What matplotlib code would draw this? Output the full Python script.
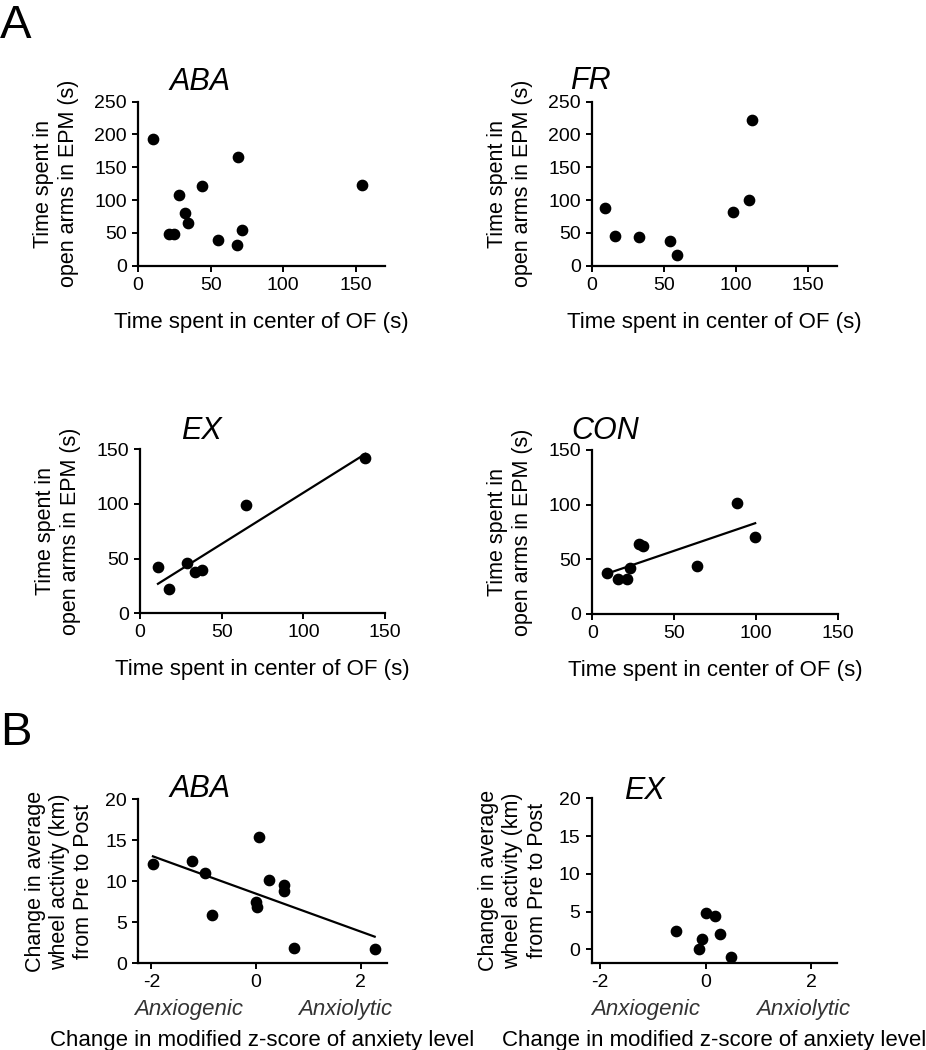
import numpy as np
import matplotlib
matplotlib.use('Agg')
import matplotlib.pyplot as plt

plt.rcParams['font.family'] = ['Liberation Sans', 'DejaVu Sans']
plt.rcParams['axes.unicode_minus'] = False

# Panel A: OF center time (x) vs EPM open-arm time (y)
aba_of = [10.3, 69, 44, 154.5, 28, 32.4, 34.5, 21.4, 24.6, 55.4, 68, 71.5]
aba_epm = [193, 165, 122, 123, 108, 81, 65.5, 48, 49, 39, 32, 55]

fr_of = [8.8, 16.2, 32.8, 54.3, 58.9, 97.9, 109.2, 111.3]
fr_epm = [87.4, 45.7, 43.7, 37, 16.3, 82.3, 100.6, 221.5]

ex_of = [11, 18, 29, 33.9, 38, 65.1, 138]
ex_epm = [41.9, 22.6, 45.9, 37.6, 39.8, 99, 141.6]

con_of = [9, 15.9, 21.2, 23, 28.5, 31.2, 64.2, 88.4, 99.6]
con_epm = [37.2, 31.7, 31.7, 42.4, 64, 62.5, 44.2, 101.2, 70.1]

# Panel B: change in z-score (x) vs change in wheel activity (y)
bz_aba = [-1.97, -1.22, -0.98, -0.84, 0.06, 0.006, 0.02, 0.25, 0.54, 0.54, 0.72, 2.27]
bw_aba = [12.06, 12.5, 11.05, 5.85, 15.4, 7.47, 6.87, 10.2, 9.5, 8.8, 1.9, 1.7]

bz_ex = [-0.56, 0.01, 0.18, 0.28, -0.06, -0.13, 0.49]
bw_ex = [2.38, 4.8, 4.37, 2.03, 1.32, 0.08, -1.06]

W, H = 926, 1050
fig = plt.figure(figsize=(W / 100, H / 100), dpi=100)

TICK_FS = 14
LAB_FS = 15.5
TITLE_FS = 22


def px_axes(left, top, right, bottom):
    return fig.add_axes([left / W, 1 - bottom / H, (right - left) / W, (bottom - top) / H])


def style(ax):
    for s in ['top', 'right']:
        ax.spines[s].set_visible(False)
    for s in ['left', 'bottom']:
        ax.spines[s].set_linewidth(1.6)
    ax.tick_params(direction='out', length=4, width=1.4, labelsize=TICK_FS, pad=4)


def fit_line(ax, x, y):
    k, b = np.polyfit(x, y, 1)
    xs = np.array([min(x), max(x)])
    ax.plot(xs, k * xs + b, color='black', lw=1.6)


def ftext(x, y, s, **kw):
    fig.text(x / W, 1 - y / H, s, **kw)


ylab_a = 'Time spent in\nopen arms in EPM (s)'
xlab_a = 'Time spent in center of OF (s)'
ylab_b = 'Change in average\nwheel activity (km)\nfrom Pre to Post'

panels_a = [
    (px_axes(138, 101.7, 385, 265.7), aba_of, aba_epm, 'ABA', 170, 250, False, (200, 90)),
    (px_axes(592, 101.7, 837, 265.7), fr_of, fr_epm, 'FR', 170, 250, False, (590, 89)),
    (px_axes(140, 449.3, 385, 613.3), ex_of, ex_epm, 'EX', 150, 150, True, (201, 439)),
    (px_axes(592.3, 450, 837.6, 614), con_of, con_epm, 'CON', 150, 150, True, (605, 439)),
]

for ax, x, y, name, xmax, ymax, reg, tpos in panels_a:
    ax.scatter(x, y, s=55, color='black', zorder=3, clip_on=False)
    if reg:
        fit_line(ax, x, y)
    ax.set_xlim(0, xmax)
    ax.set_ylim(0, ymax)
    ax.set_xticks([0, 50, 100, 150])
    ax.set_yticks(np.arange(0, ymax + 1, 50))
    style(ax)
    ax.set_ylabel(ylab_a, fontsize=LAB_FS, labelpad=11, linespacing=1.25)
    ax.set_xlabel(xlab_a, fontsize=16, labelpad=13)
    ftext(tpos[0], tpos[1], name, fontsize=TITLE_FS, style='italic', ha='center', va='baseline')

panels_b = [
    (px_axes(138.3, 799.3, 386.7, 963.3), bz_aba, bw_aba, 'ABA', 0, True, (200, 797), -1.29, 1.71),
    (px_axes(591.7, 798.3, 837.3, 962.7), bz_ex, bw_ex, 'EX', -1.77, False, (644, 799), -1.13, 1.85),
]

for ax, x, y, name, ymin, reg, tpos, gx, lx in panels_b:
    ax.scatter(x, y, s=55, color='black', zorder=3, clip_on=False)
    if reg:
        fit_line(ax, x, y)
    ax.set_xlim(-2.25 if reg else -2.16, 2.5)
    ax.set_ylim(ymin, 20)
    ax.set_xticks([-2, 0, 2])
    ax.set_yticks([0, 5, 10, 15, 20])
    style(ax)
    ax.set_ylabel(ylab_b, fontsize=LAB_FS, labelpad=8, linespacing=1.2)
    ax.text(gx, -0.22, 'Anxiogenic', transform=ax.get_xaxis_transform(), fontsize=16,
            style='italic', color='#333333', ha='center', va='top')
    ax.text(lx, -0.22, 'Anxiolytic', transform=ax.get_xaxis_transform(), fontsize=16,
            style='italic', color='#333333', ha='center', va='top')
    ax.set_xlabel('Change in modified z-score of anxiety level', fontsize=16, labelpad=28)
    ftext(tpos[0], tpos[1], name, fontsize=TITLE_FS, style='italic', ha='center', va='baseline')

ftext(0, 38, 'A', fontsize=34, va='baseline')
ftext(0, 745, 'B', fontsize=34, va='baseline')

fig.savefig('out.png', dpi=100)
